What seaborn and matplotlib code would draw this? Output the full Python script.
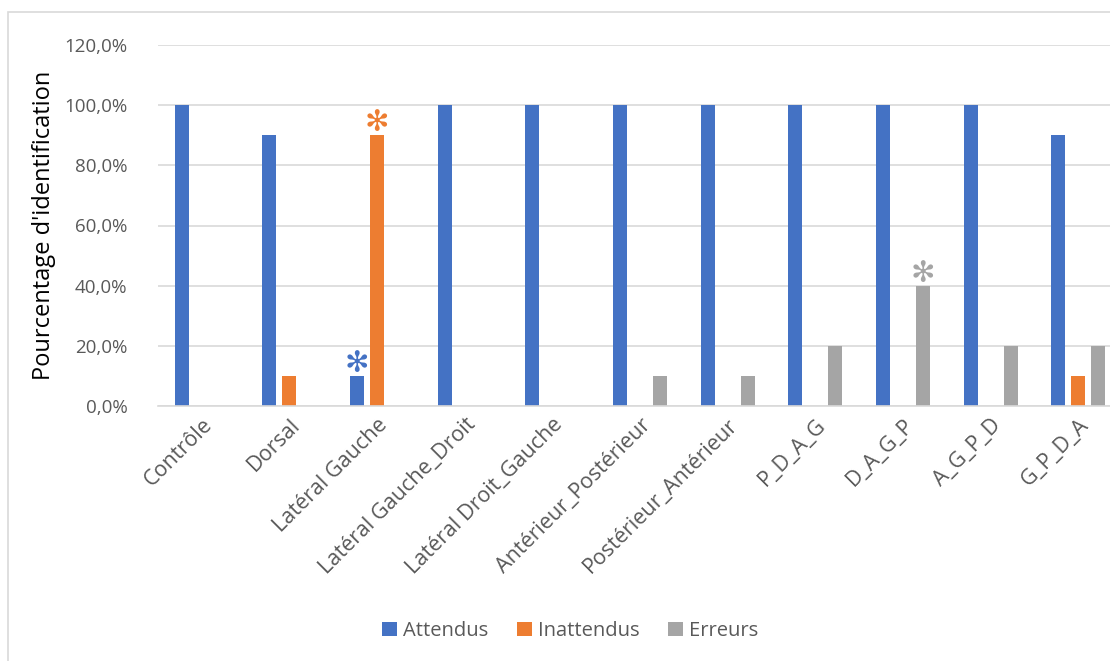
import matplotlib
matplotlib.use("Agg")
import matplotlib.pyplot as plt
from matplotlib.ticker import FuncFormatter, MultipleLocator
from matplotlib.patches import Rectangle
import seaborn as sns
import pandas as pd

categories = ["Contrôle", "Dorsal", "Latéral Gauche", "Latéral Gauche_Droit",
              "Latéral Droit_Gauche", "Antérieur_Postérieur", "Postérieur_Antérieur",
              "P_D_A_G", "D_A_G_P", "A_G_P_D", "G_P_D_A"]
attendus = [100, 90, 10, 100, 100, 100, 100, 100, 100, 100, 90]
inattendus = [0, 10, 90, 0, 0, 0, 0, 0, 0, 0, 10]
erreurs = [0, 0, 0, 0, 0, 10, 10, 20, 40, 20, 20]
series_names = ["Attendus", "Inattendus", "Erreurs"]
colors = ["#4472C4", "#ED7D31", "#A5A5A5"]
# significance marks: (series index, category index)
marks = [(0, 2), (1, 2), (2, 8)]

rows = []
for name, vals in zip(series_names, [attendus, inattendus, erreurs]):
    for c, v in zip(categories, vals):
        rows.append({"Catégorie": c, "Série": name, "Valeur": v})
df = pd.DataFrame(rows)

sns.set_theme(style="white")
plt.rcParams["font.family"] = ["Open Sans", "DejaVu Sans"]
text_col = "#595959"

fig = plt.figure(figsize=(11.10, 6.61), dpi=100)
W, H = 1110, 661
ax = fig.add_axes([158 / W, 1 - 406 / H, 964 / W, (406 - 45) / H])

sns.barplot(data=df, x="Catégorie", y="Valeur", hue="Série", order=categories,
            hue_order=series_names, palette=colors, width=0.685, gap=0.3,
            saturation=1, ax=ax, legend=True, edgecolor="none")

ax.set_ylim(0, 120)
ax.set_xlim(-0.5, len(categories) - 0.5)
ax.yaxis.set_major_locator(MultipleLocator(20))
ax.yaxis.set_major_formatter(FuncFormatter(lambda v, p: f"{v:.1f}%".replace(".", ",")))
ax.grid(axis="y", color="#D9D9D9", linewidth=1.2)
ax.set_axisbelow(True)
for s in ["left", "right", "top"]:
    ax.spines[s].set_visible(False)
ax.spines["bottom"].set_color("#D9D9D9")
ax.spines["bottom"].set_linewidth(1.2)
ax.tick_params(axis="y", length=0, labelsize=13.5, labelcolor=text_col, pad=22)
ax.tick_params(axis="x", length=0, labelsize=15.5, labelcolor=text_col, pad=6)
plt.setp(ax.get_xticklabels(), rotation=45, ha="right", rotation_mode="anchor")
ax.set_xlabel("")
ax.set_ylabel("Pourcentage d'identification", fontsize=17, color="black", labelpad=6)

# asterisks over the flagged bars
for si, ci in marks:
    bar = ax.containers[si][ci]
    x = bar.get_x() + bar.get_width() / 2
    y = bar.get_height()
    ax.annotate("\u273B", xy=(x, y), xytext=(0, -1.5), textcoords="offset points",
                ha="center", va="bottom", fontsize=21, color=colors[si],
                family="DejaVu Sans")

handles, labels = ax.get_legend_handles_labels()
ax.legend(handles, labels, loc="center", bbox_to_anchor=(570 / W, 1 - 631 / H),
          bbox_transform=fig.transFigure, ncol=3, frameon=False,
          handlelength=0.75, handleheight=0.75, handletextpad=0.3,
          columnspacing=1.4, fontsize=14.5, labelcolor=text_col)

# chart frame
fig.patches.append(Rectangle((8 / W, -0.1), 1.2, 1 - 12 / H + 0.1,
                             transform=fig.transFigure, fill=False,
                             edgecolor="#D9D9D9", linewidth=1.2))

fig.savefig("out.png", dpi=100)
